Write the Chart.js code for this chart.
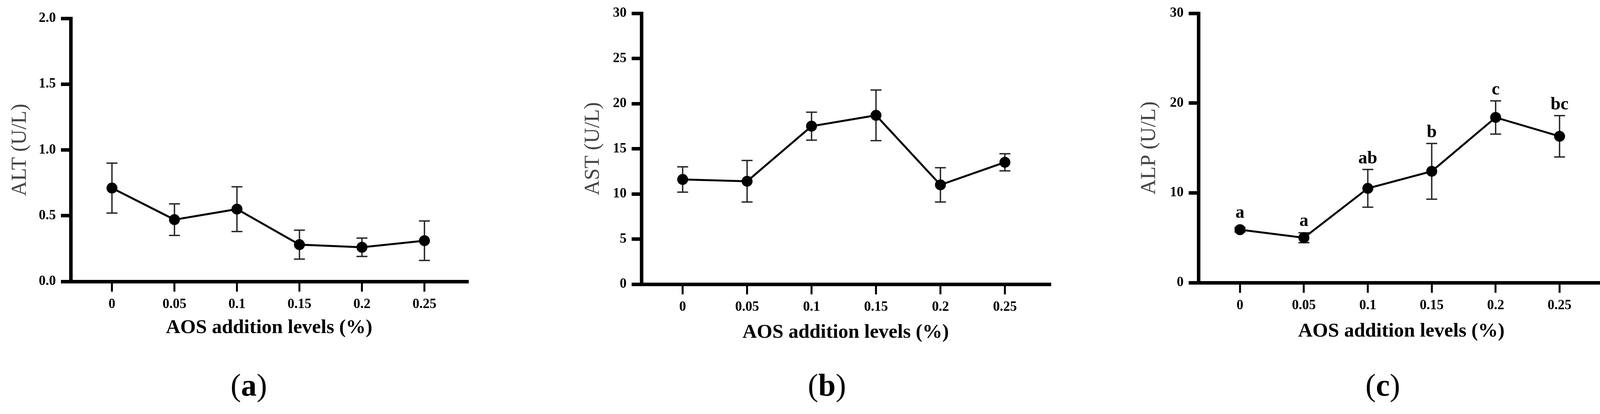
<!DOCTYPE html>
<html>
<head>
<meta charset="utf-8">
<script src="https://cdn.jsdelivr.net/npm/chart.js@4.4.0/dist/chart.umd.min.js"></script>
<style>
    body { margin: 0; background: #fff; width: 4130px; height: 1059px; position: relative; overflow: hidden; }
    canvas { position: absolute; top: 0; }
    .cap { position: absolute; top: 945px; width: 200px; text-align: center; font-family: "Liberation Serif", serif; font-size: 80px; line-height: 80px; color: #000; }
</style>
</head>
<body>
<canvas id="altChart" width="1300" height="1059" style="left:0px"></canvas>
<canvas id="astChart" width="1380" height="1059" style="left:1400px"></canvas>
<canvas id="alpChart" width="1310" height="1059" style="left:2820px"></canvas>
<div class="cap" style="left:537px">(<b>a</b>)</div>
<div class="cap" style="left:2017px">(<b>b</b>)</div>
<div class="cap" style="left:3440px">(<b>c</b>)</div>
<script>
// AOS addition levels (%) on the x axis
const levels = ['0', '0.05', '0.1', '0.15', '0.2', '0.25'];

// (a) ALT
const altMean = [0.71, 0.47, 0.55, 0.28, 0.26, 0.31];
const altErr  = [0.19, 0.12, 0.17, 0.11, 0.07, 0.15];
const altTicks = [0, 0.5, 1.0, 1.5, 2.0];

// (b) AST
const astMean = [11.6, 11.4, 17.5, 18.7, 11.0, 13.5];
const astErr  = [1.4, 2.3, 1.55, 2.8, 1.9, 0.95];
const astTicks = [0, 5, 10, 15, 20, 25, 30];

// (c) ALP, with significance letters
const alpMean = [5.9, 5.0, 10.5, 12.4, 18.4, 16.3];
const alpErr  = [0.25, 0.55, 2.1, 3.1, 1.85, 2.3];
const alpLetters = ['a', 'a', 'ab', 'b', 'c', 'bc'];
const alpTicks = [0, 10, 20, 30];

const serif = '"Liberation Serif", "Times New Roman", serif';

// error bars behind the points, letters above them
const errorBars = {
    id: 'errorBars',
    beforeDatasetsDraw(chart, args, opts) {
        const meta = chart.getDatasetMeta(0);
        const ds = chart.data.datasets[0];
        const y = chart.scales.y;
        const ctx = chart.ctx;
        ctx.save();
        ctx.strokeStyle = '#262626';
        ctx.lineWidth = 3.5;
        meta.data.forEach((pt, i) => {
            const v = ds.data[i].y;
            const top = y.getPixelForValue(v + opts.errors[i]);
            const bot = y.getPixelForValue(v - opts.errors[i]);
            ctx.beginPath();
            ctx.moveTo(pt.x, top); ctx.lineTo(pt.x, bot);
            ctx.moveTo(pt.x - 14, top); ctx.lineTo(pt.x + 14, top);
            ctx.moveTo(pt.x - 14, bot); ctx.lineTo(pt.x + 14, bot);
            ctx.stroke();
        });
        ctx.restore();
    },
    afterDatasetsDraw(chart, args, opts) {
        if (!opts.letters) return;
        const meta = chart.getDatasetMeta(0);
        const ds = chart.data.datasets[0];
        const y = chart.scales.y;
        const ctx = chart.ctx;
        ctx.save();
        ctx.fillStyle = '#000';
        ctx.font = 'bold 46px ' + serif;
        ctx.textAlign = 'center';
        ctx.textBaseline = 'alphabetic';
        meta.data.forEach((pt, i) => {
            const top = Math.min(y.getPixelForValue(ds.data[i].y + opts.errors[i]), pt.y - 14);
            ctx.fillText(opts.letters[i], pt.x, top - 16);
        });
        ctx.restore();
    }
};

function makeChart(id, cfg) {
    return new Chart(document.getElementById(id), {
        type: 'line',
        data: {
            datasets: [{
                data: cfg.mean.map((v, i) => ({x: i, y: v})),
                borderColor: '#000',
                borderWidth: 5,
                pointRadius: 14,
                pointBackgroundColor: '#000',
                pointBorderWidth: 0,
                tension: 0
            }]
        },
        options: {
            responsive: false,
            animation: false,
            events: [],
            layout: { padding: cfg.pad },
            plugins: {
                legend: { display: false },
                tooltip: { enabled: false },
                errorBars: { errors: cfg.err, letters: cfg.letters }
            },
            scales: {
                x: {
                    type: 'linear',
                    min: cfg.xMin,
                    max: cfg.xMax,
                    afterBuildTicks: s => { s.ticks = levels.map((_, i) => ({value: i})); },
                    afterFit: s => { s.height = cfg.xHeight; },
                    ticks: {
                        callback: v => levels[v],
                        font: { family: serif, size: 35, weight: 'bold' },
                        color: '#000',
                        padding: 12,
                        maxRotation: 0,
                        autoSkip: false
                    },
                    grid: { drawOnChartArea: false, lineWidth: 5, tickLength: 26, color: '#000' },
                    border: { width: 9, color: '#000' },
                    title: {
                        display: true,
                        text: 'AOS addition levels (%)',
                        font: { family: serif, size: 51, weight: 'bold', lineHeight: 1 },
                        color: '#000',
                        padding: { top: 0, bottom: cfg.xTitlePad }
                    }
                },
                y: {
                    min: 0,
                    max: cfg.ticks[cfg.ticks.length - 1],
                    afterBuildTicks: s => { s.ticks = cfg.ticks.map(v => ({value: v})); },
                    afterFit: s => { s.width = cfg.yWidth; },
                    ticks: {
                        callback: cfg.fmt,
                        font: { family: serif, size: 35, weight: 'bold' },
                        color: '#000',
                        padding: 13
                    },
                    grid: { drawOnChartArea: false, lineWidth: 9, tickLength: 25, color: '#000' },
                    border: { width: 9, color: '#000' },
                    title: {
                        display: true,
                        text: cfg.title,
                        font: { family: serif, size: 54, lineHeight: 1 },
                        color: '#444',
                        padding: { top: cfg.yTitlePad, bottom: 0 }
                    }
                }
            }
        },
        plugins: [errorBars]
    });
}

makeChart('altChart', {
    mean: altMean, err: altErr, ticks: altTicks, title: 'ALT (U/L)',
    fmt: v => v.toFixed(1),
    pad: { left: 0, top: 47, right: 103, bottom: 0 },
    xMin: -0.66, xMax: 5.69, xHeight: 339, xTitlePad: 195, yWidth: 181, yTitlePad: 25
});

makeChart('astChart', {
    mean: astMean, err: astErr, ticks: astTicks, title: 'AST (U/L)',
    fmt: v => String(v),
    pad: { left: 0, top: 33, right: 92, bottom: 0 },
    xMin: -0.64, xMax: 5.70, xHeight: 332, xTitlePad: 183, yWidth: 242, yTitlePad: 92
});

makeChart('alpChart', {
    mean: alpMean, err: alpErr, letters: alpLetters, ticks: alpTicks, title: 'ALP (U/L)',
    fmt: v => String(v),
    pad: { left: 0, top: 34, right: 23, bottom: 0 },
    xMin: -0.65, xMax: 5.70, xHeight: 336, xTitlePad: 186, yWidth: 248, yTitlePad: 96
});
</script>
</body>
</html>
